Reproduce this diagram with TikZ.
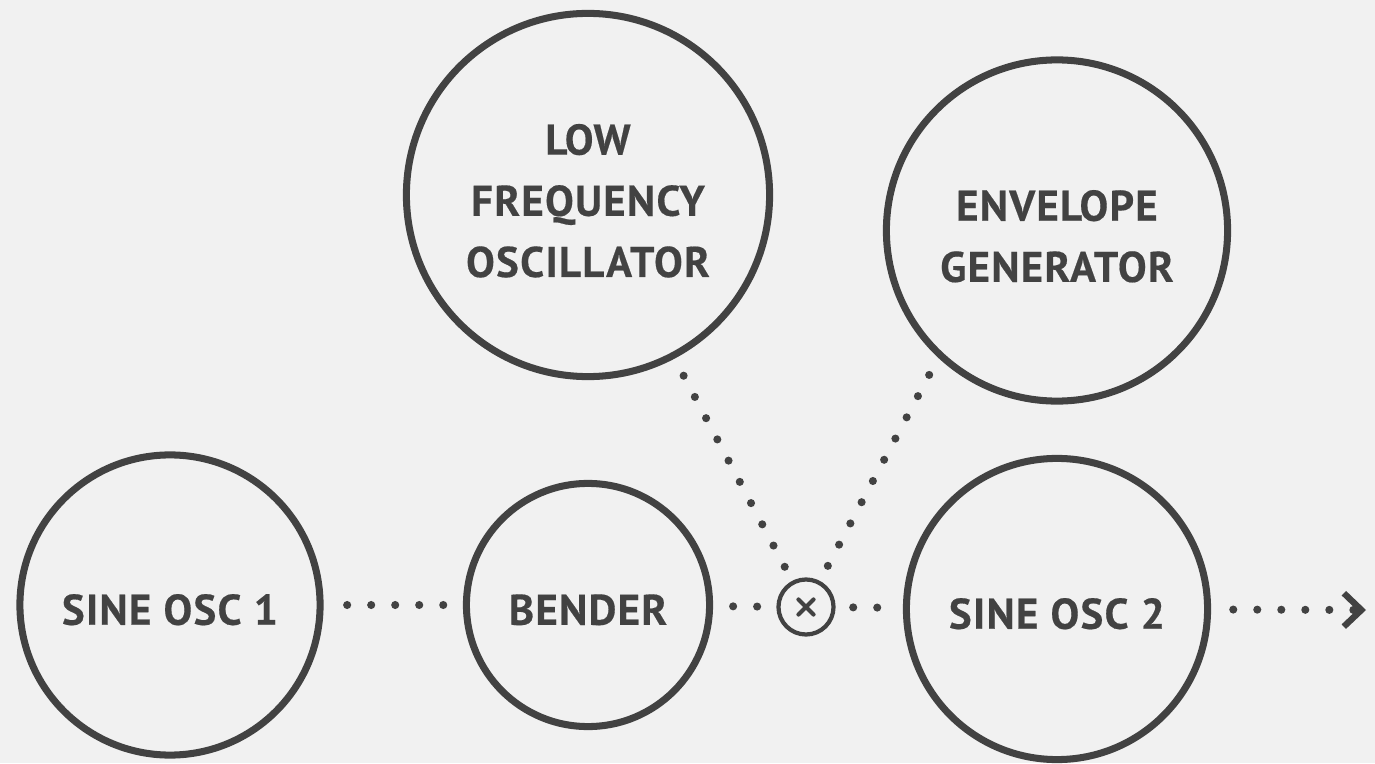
\documentclass[tikz,border=0pt]{standalone}
\usepackage{fontspec}
\setmainfont{PT Sans}[LetterSpace=3,BoldFeatures={FakeBold=0.4}]
\usepackage{tikz}
\usetikzlibrary{arrows.meta}
\definecolor{ink}{HTML}{424242}
\definecolor{paper}{HTML}{F1F1F1}
\newcommand\lift{\rule{0pt}{12pt}}

\begin{document}
\begin{tikzpicture}[x=0.01cm,y=0.01cm,>={Straight Barb[length=5pt,width=9.5pt,line width=1.8pt]}]

  \tikzstyle{unit}=[circle,draw=ink,line width=2pt,inner sep=0pt,align=center,text=ink,
                    font=\fontsize{12.2}{17.4}\selectfont\bfseries,
                    execute at begin node=\rule{0pt}{11.4pt}]
  \tikzstyle{mult}=[circle,draw=ink,line width=1.2pt,inner sep=0pt,minimum size=0.55cm,
                    path picture={\draw[ink,line width=1.2pt,line cap=round]
                      ([shift={(-0.075cm,-0.075cm)}]path picture bounding box.center) -- ++(0.15cm,0.15cm)
                      ([shift={(-0.075cm,0.075cm)}]path picture bounding box.center) -- ++(0.15cm,-0.15cm);}]
  \tikzstyle{flow}=[draw=ink,line width=2.3pt,line cap=round,dash pattern=on 0pt off 6.83pt]

  \fill[paper] (0,0) rectangle (1375,763);
  \useasboundingbox (0,0) rectangle (1375,763);

  \node[unit,minimum size=3cm]    (sine1)  at (170,158)    {SINE OSC 1};
  \node[unit,minimum size=2.43cm] (bender) at (588,158)    {BENDER};
  \node[mult]                     (x)      at (806,156)    {};
  \node[unit,minimum size=3.01cm] (sine2)  at (1057,154)   {SINE OSC 2};
  \node[unit,minimum size=3.63cm] (lfo)    at (588,568)    {\lift LOW\\FREQUENCY\\OSCILLATOR};
  \node[unit,minimum size=3.41cm] (env)    at (1057,532.5) {\lift ENVELOPE\\GENERATOR};
  \coordinate (out) at (1366,153);

  \path
  (sine1)     edge [flow,shorten <=6.7pt,shorten >=5.5pt] (bender)
  (bender)    edge [flow,shorten <=5.7pt,shorten >=5.2pt] (x)
  (x)         edge [flow,shorten <=5pt,shorten >=7.1pt]   (sine2)
  (lfo)       edge [flow,shorten <=5.5pt,shorten >=4.5pt] (x)
  (env.227)   edge [flow,shorten <=5.5pt,shorten >=4.5pt] (x)
  (sine2)     edge [flow,shorten <=6.3pt,->]              (out)
  ;
\end{tikzpicture}
\end{document}
